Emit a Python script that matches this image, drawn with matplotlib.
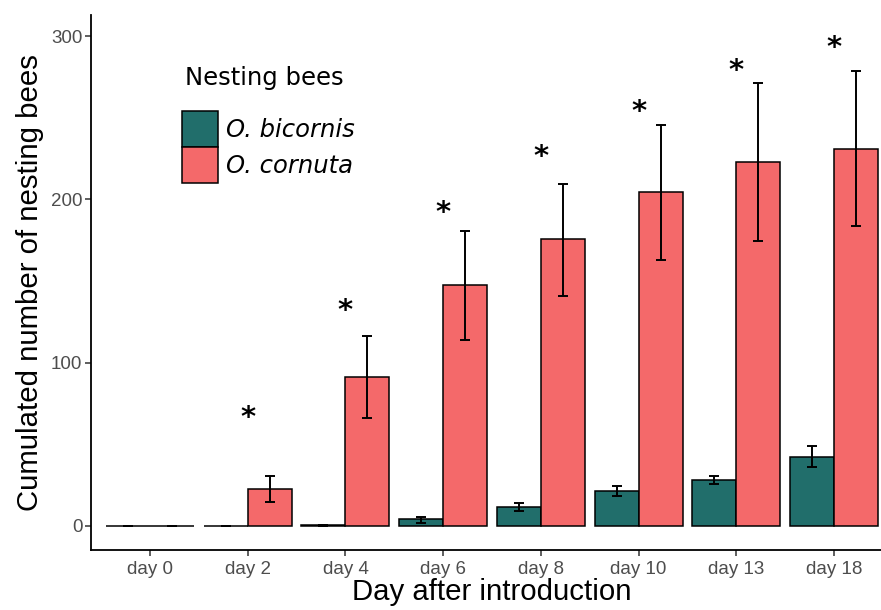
import numpy as np
import matplotlib.pyplot as plt
from matplotlib.patches import Patch

# values
days = ['day 0', 'day 2', 'day 4', 'day 6', 'day 8', 'day 10', 'day 13', 'day 18']
bicornis = [0, 0, 0.5, 4.1, 11.4, 21.6, 28.0, 42.4]
bicornis_lo = [0, 0, 0.3, 2.0, 9.0, 18.4, 25.5, 35.9]
bicornis_hi = [0, 0, 0.7, 5.5, 14.1, 24.3, 30.4, 48.8]
cornuta = [0, 22.7, 91.2, 147.6, 175.5, 204.5, 223.0, 230.7]
cornuta_lo = [0, 14.9, 66.1, 113.9, 141.0, 162.9, 174.7, 183.7]
cornuta_hi = [0, 30.4, 116.3, 180.8, 209.4, 245.8, 271.0, 278.6]
star_y = [None, 71.6, 137, 197, 231, 259, 284, 298]

col_bic = '#216E6B'
col_cor = '#F4696A'

fig = plt.figure(figsize=(8.81, 6.10), dpi=100)
ax = fig.add_axes([91.4 / 881, 60 / 610, 801.2 / 881, 535 / 610])

x = np.arange(len(days))
w = 0.45
ax.bar(x - w / 2, bicornis, w, color=col_bic, edgecolor='black', linewidth=1.1, zorder=2)
ax.bar(x + w / 2, cornuta, w, color=col_cor, edgecolor='black', linewidth=1.1, zorder=2)

b = np.array(bicornis)
c = np.array(cornuta)
ax.errorbar(x - w / 2, b, yerr=[b - np.array(bicornis_lo), np.array(bicornis_hi) - b],
            fmt='none', ecolor='black', elinewidth=1.4, capsize=3.6, capthick=1.4, zorder=3)
ax.errorbar(x + w / 2, c, yerr=[c - np.array(cornuta_lo), np.array(cornuta_hi) - c],
            fmt='none', ecolor='black', elinewidth=1.4, capsize=3.6, capthick=1.4, zorder=3)

for i, sy in enumerate(star_y):
    if sy is None:
        continue
    ax.annotate('*', (x[i], sy), xytext=(0, -12), textcoords='offset points',
                ha='center', va='baseline', fontsize=21, fontweight='bold',
                family='DejaVu Sans')

ax.set_xlim(-0.6, 7.6)
ax.set_ylim(-14.7, 312.9)
ax.set_xticks(x)
ax.set_xticklabels(days)
ax.set_yticks([0, 100, 200, 300])

for s in ['top', 'right']:
    ax.spines[s].set_visible(False)
for s in ['left', 'bottom']:
    ax.spines[s].set_linewidth(1.3)
    ax.spines[s].set_color('black')

ax.tick_params(length=4, width=1.1, color='#333333', labelcolor='#4D4D4D',
               labelsize=13.5, pad=2.5)
ax.tick_params(axis='x', pad=4)
for lab in ax.get_xticklabels() + ax.get_yticklabels():
    lab.set_family('Liberation Sans')

ax.set_xlabel('Day after introduction', fontsize=21.2, family='Liberation Sans', labelpad=0)
ax.set_ylabel('Cumulated number of nesting bees', fontsize=21.2, family='Liberation Sans',
              labelpad=5)

fig.text(185 / 881, 1 - 66 / 610, 'Nesting bees', fontsize=17.5, family='DejaVu Sans',
         ha='left', va='top')
handles = [Patch(facecolor=col_bic, edgecolor='black', linewidth=1.1),
           Patch(facecolor=col_cor, edgecolor='black', linewidth=1.1)]
fig.legend(handles, ['O. bicornis', 'O. cornuta'], loc='upper left',
           bbox_to_anchor=(182 / 881, 1 - 111 / 610), frameon=False,
           prop={'family': 'DejaVu Sans', 'style': 'italic', 'size': 17.5},
           handlelength=1.48, handleheight=1.9, labelspacing=0, handletextpad=0.35,
           borderpad=0, borderaxespad=0)

fig.savefig('out.png', dpi=100)
